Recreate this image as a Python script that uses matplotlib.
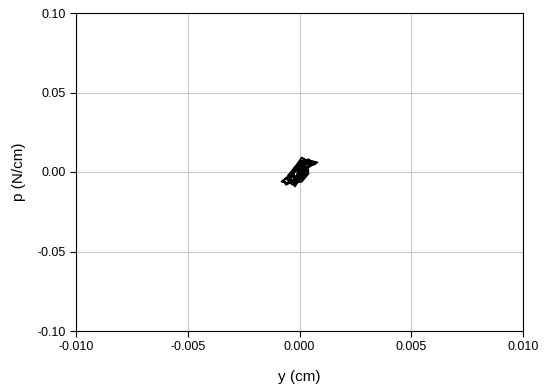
import matplotlib
matplotlib.use("Agg")
import matplotlib.pyplot as plt

plt.rcParams["font.family"] = ["Liberation Sans", "DejaVu Sans"]

# displacement (cm) and force per length (N/cm) recorded over several cycles
disp = [0.0000, 0.0003, 0.0006, 0.0008, 0.0005, 0.0001, -0.0003, -0.0006, -0.0008,
        -0.0005, -0.0001, 0.0002, 0.0005, 0.0007, 0.0004, 0.0000, -0.0004, -0.0007,
        -0.0006, -0.0002, 0.0002, 0.0004, 0.0006, 0.0003, -0.0001, -0.0004, -0.0006,
        -0.0003, 0.0001, 0.0004, 0.0002, 0.0005, 0.0001, -0.0002, -0.0005, -0.0002,
        0.0001, 0.0003, 0.0000, -0.0003, -0.0001, 0.0002, 0.0004, 0.0001, -0.0002,
        -0.0004, -0.0001, 0.0002, 0.0000, 0.0003, 0.0001, -0.0002, -0.0004, -0.0002,
        0.0001, 0.0003, 0.0005, 0.0002, -0.0001, -0.0003, -0.0005, -0.0003, 0.0000,
        0.0002, -0.0001, 0.0001, 0.0003, 0.0000, -0.0002, 0.0000, 0.0002, 0.0000]
force = [0.000, 0.003, 0.005, 0.006, 0.007, 0.004, 0.000, -0.004, -0.006,
         -0.007, -0.003, 0.001, 0.004, 0.005, 0.008, 0.004, -0.002, -0.005,
         -0.008, -0.005, 0.000, 0.003, 0.006, 0.007, 0.002, -0.003, -0.004,
         -0.007, -0.006, -0.001, 0.004, 0.006, 0.009, 0.003, -0.002, -0.008,
         -0.004, 0.002, 0.005, 0.000, -0.006, -0.003, 0.001, 0.006, 0.003,
         -0.002, -0.005, -0.001, 0.000, 0.002, 0.007, 0.001, -0.004, -0.009,
         -0.002, 0.003, 0.004, 0.008, 0.002, -0.001, -0.006, -0.008, -0.003,
         0.005, 0.001, -0.004, 0.007, 0.004, -0.006, -0.002, 0.006, 0.000]

x_ticks = [-0.010, -0.005, 0.000, 0.005, 0.010]
y_ticks = [-0.10, -0.05, 0.00, 0.05, 0.10]

fig = plt.figure(figsize=(5.49, 3.9), dpi=100)
ax = fig.add_axes([76 / 549, 1 - 331 / 390, 447 / 549, 318 / 390])

ax.plot(disp, force, color="black", linewidth=1.4)

ax.set_xlim(-0.010, 0.010)
ax.set_ylim(-0.10, 0.10)
ax.set_xticks(x_ticks)
ax.set_yticks(y_ticks)
ax.set_xticklabels([f"{v:.3f}" for v in x_ticks])
ax.set_yticklabels([f"{v:.2f}" for v in y_ticks])
ax.grid(True, color="#c8c8c8", linewidth=0.8)
ax.set_axisbelow(True)
ax.tick_params(direction="out", length=4, width=0.8, labelsize=9, colors="black")
for s in ax.spines.values():
    s.set_linewidth(0.8)
    s.set_color("black")

ax.set_xlabel("y (cm)", fontsize=11, labelpad=12)
ax.set_ylabel("p (N/cm)", fontsize=11, labelpad=8)

fig.savefig("out.png", dpi=100)
